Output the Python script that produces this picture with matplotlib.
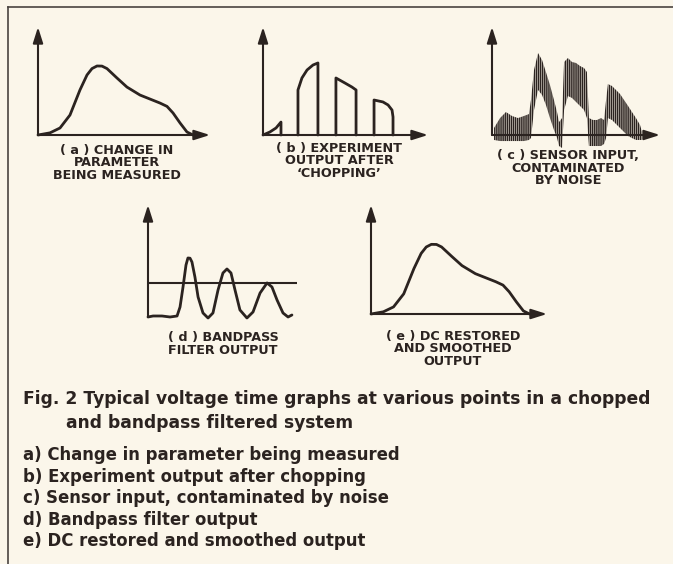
import matplotlib
matplotlib.use("Agg")
import matplotlib.pyplot as plt
from matplotlib.lines import Line2D

plt.rcParams['font.family'] = ['DejaVu Sans']
plt.rcParams['hatch.linewidth'] = 1.1

INK = "#2b2320"
PAPER = "#fbf6ea"

# --- (a) and (e): the measured parameter (time, level as fraction of axis) ---
signal_t = [0.0, 0.07, 0.128, 0.186, 0.244, 0.285, 0.314, 0.343, 0.372, 0.401,
            0.459, 0.517, 0.593, 0.651, 0.709, 0.750, 0.785, 0.826, 0.866, 0.901]
signal_v = [0.0, 0.02, 0.065, 0.185, 0.417, 0.556, 0.615, 0.639, 0.638, 0.615,
            0.528, 0.444, 0.370, 0.333, 0.296, 0.265, 0.204, 0.111, 0.028, 0.0]

# --- (b): chopped output, one list per "on" window ---
chop_t = [[0.0, 0.042, 0.079, 0.109],
          [0.212, 0.212, 0.236, 0.267, 0.303, 0.333],
          [0.442, 0.497, 0.539, 0.564],
          [0.673, 0.727, 0.758, 0.782, 0.788]]
chop_v = [[0.0, 0.028, 0.065, 0.12],
          [0.37, 0.417, 0.528, 0.602, 0.648, 0.667],
          [0.528, 0.481, 0.444, 0.417],
          [0.324, 0.306, 0.278, 0.231, 0.167]]

# --- (c): sensor input, upper / lower edge of the noise band ---
noise_t = [0.012, 0.048, 0.083, 0.119, 0.155, 0.190, 0.220, 0.232, 0.250, 0.274,
           0.298, 0.321, 0.345, 0.369, 0.387, 0.399, 0.417, 0.429, 0.452, 0.476,
           0.500, 0.524, 0.548, 0.565, 0.577, 0.601, 0.625, 0.649, 0.667, 0.679,
           0.690, 0.714, 0.738, 0.762, 0.786, 0.810, 0.833, 0.857, 0.881, 0.893]
noise_hi = [0.065, 0.157, 0.213, 0.176, 0.157, 0.176, 0.194, 0.324, 0.602, 0.759,
            0.694, 0.583, 0.463, 0.324, 0.213, 0.120, 0.157, 0.676, 0.713, 0.676,
            0.667, 0.639, 0.620, 0.583, 0.157, 0.139, 0.139, 0.157, 0.139, 0.324,
            0.472, 0.454, 0.417, 0.380, 0.324, 0.269, 0.213, 0.157, 0.093, 0.028]
noise_lo = [-0.046, -0.056, -0.056, -0.056, -0.056, -0.056, -0.046, -0.028, 0.231, 0.417,
            0.370, 0.278, 0.157, 0.046, -0.028, -0.102, -0.120, 0.231, 0.361, 0.343,
            0.306, 0.269, 0.231, 0.157, -0.102, -0.102, -0.102, -0.102, -0.083, -0.028,
            0.157, 0.139, 0.102, 0.065, 0.028, -0.009, -0.028, -0.046, -0.046, -0.046]

# --- (d): bandpass filter output ---
bp_t = [0.0, 0.034, 0.094, 0.148, 0.195, 0.215, 0.235, 0.255, 0.268, 0.282, 0.295,
        0.315, 0.336, 0.369, 0.403, 0.436, 0.470, 0.503, 0.530, 0.557, 0.584,
        0.617, 0.664, 0.705, 0.752, 0.799, 0.832, 0.866, 0.906, 0.940, 0.966]
bp_v = [0.0, 0.009, 0.009, 0.0, 0.009, 0.089, 0.268, 0.464, 0.527, 0.525, 0.491,
        0.357, 0.179, 0.036, -0.009, 0.036, 0.241, 0.393, 0.429, 0.393, 0.241,
        0.063, -0.009, 0.045, 0.214, 0.304, 0.268, 0.152, 0.036, 0.0, 0.018]
bp_ref = 0.304

labels = ["( a ) CHANGE IN\nPARAMETER\nBEING MEASURED",
          "( b ) EXPERIMENT\nOUTPUT AFTER\n\u2018CHOPPING\u2019",
          "( c ) SENSOR INPUT,\nCONTAMINATED\nBY NOISE",
          "( d ) BANDPASS\nFILTER OUTPUT",
          "( e ) DC RESTORED\nAND SMOOTHED\nOUTPUT"]

caption = ["Fig. 2 Typical voltage time graphs at various points in a chopped",
           "and bandpass filtered system"]
items = ["a) Change in parameter being measured",
         "b) Experiment output after chopping",
         "c) Sensor input, contaminated by noise",
         "d) Bandpass filter output",
         "e) DC restored and smoothed output"]

W, H = 673, 564
fig = plt.figure(figsize=(W / 100, H / 100), dpi=100, facecolor=PAPER)


def panel(x0, y0, x1, y1, xarrow=True):
    """axes whose (0,0) sits at pixel (x0,y0) and (1,1) at (x1,y1), y measured from top"""
    ax = fig.add_axes([x0 / W, 1 - y0 / H, (x1 - x0) / W, (y0 - y1) / H])
    ax.set_xlim(0, 1)
    ax.set_ylim(0, 1)
    ax.axis("off")
    style = "-|>,head_length=0.95,head_width=0.3"
    ax.annotate("", xy=(0, 1), xytext=(0, 0), xycoords="axes fraction",
                arrowprops=dict(arrowstyle=style, color=INK, lw=1.5,
                                shrinkA=0, shrinkB=0), annotation_clip=False)
    if xarrow:
        ax.annotate("", xy=(1, 0), xytext=(0, 0), xycoords="axes fraction",
                    arrowprops=dict(arrowstyle=style, color=INK, lw=1.5,
                                    shrinkA=0, shrinkB=0), annotation_clip=False)
    return ax


line_kw = dict(color=INK, lw=2.0, clip_on=False, solid_joinstyle="round", solid_capstyle="round")

# (a)
ax = panel(38, 135, 210, 27)
ax.plot(signal_t, signal_v, **line_kw)

# (b)
ax = panel(263, 135, 428, 27)
for t, v in zip(chop_t, chop_v):
    ax.plot([t[0]] + t + [t[-1]], [0] + v + [0], **line_kw)

# (c)
ax = panel(492, 135, 660, 27)
ax.fill_between(noise_t, noise_lo, noise_hi, facecolor="none", edgecolor=INK,
                linewidth=0, hatch="|" * 8, clip_on=False)

# (d)
ax = panel(148, 317, 297, 205, xarrow=False)
ax.axhline(bp_ref, color=INK, lw=1.5)
ax.plot(bp_t, bp_v, **line_kw)

# (e)
ax = panel(371, 314, 547, 205)
ax.plot(signal_t, signal_v, **line_kw)

# panel labels
label_pos = [(117, 144), (339, 142), (568, 149), (223, 331), (453, 330)]
for txt, (x, y) in zip(labels, label_pos):
    fig.text(x / W, 1 - y / H, txt, ha="center", va="top", fontsize=9.2,
             fontweight="bold", color=INK, linespacing=0.95)

# caption and key
cap_kw = dict(ha="left", va="baseline", fontweight="bold", color=INK)
fig.text(23 / W, 1 - 404 / H, caption[0], fontsize=12.3, **cap_kw)
fig.text(66 / W, 1 - 428 / H, caption[1], fontsize=12.3, **cap_kw)
for i, s in enumerate(items):
    fig.text(23 / W, 1 - (460 + i * 21.6) / H, s, fontsize=11.9, **cap_kw)

# frame lines of the printed box
fig.add_artist(Line2D([8 / W, 1], [1 - 7 / H, 1 - 7 / H], color="#4a4440", lw=1.2))
fig.add_artist(Line2D([8 / W, 8 / W], [1 - 7 / H, 0], color="#4a4440", lw=1.2))

fig.savefig("out.png", dpi=100, facecolor=PAPER)
